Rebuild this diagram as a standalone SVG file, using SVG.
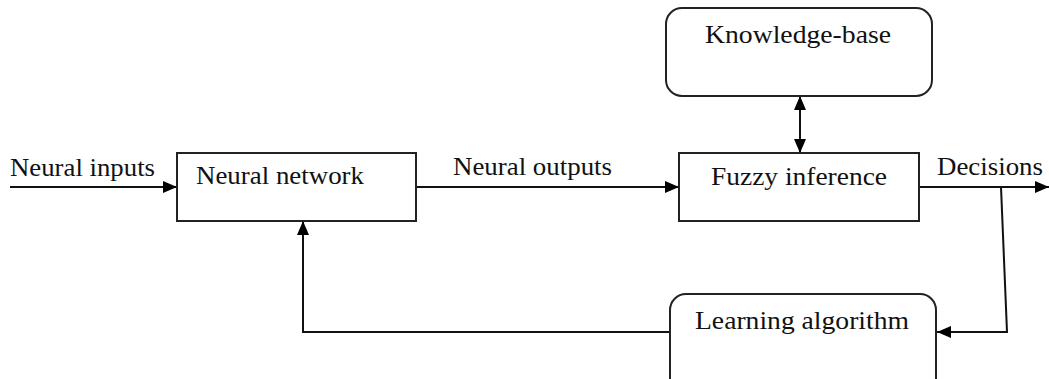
<svg xmlns="http://www.w3.org/2000/svg" width="1049" height="379" viewBox="0 0 1049 379">
<style>
.box{fill:#fff;stroke:#222;stroke-width:2}
.ln{fill:none;stroke:#111;stroke-width:2}
text{font-family:"Liberation Serif","Times New Roman",serif;font-size:26px;fill:#111}
</style>
<defs>
<marker id="ah" viewBox="0 0 14 12" refX="14" refY="6" markerWidth="14" markerHeight="12" markerUnits="userSpaceOnUse" orient="auto-start-reverse">
<path d="M0,0 L14,6 L0,12 z" fill="#000"/>
</marker>
</defs>
<rect width="1049" height="379" fill="#fff"/>
<g id="connectors">
<line class="ln" x1="10" y1="187" x2="177" y2="187" marker-end="url(#ah)"/>
<line class="ln" x1="416" y1="187" x2="679" y2="187" marker-end="url(#ah)"/>
<line class="ln" x1="919" y1="187" x2="1049" y2="187" marker-end="url(#ah)"/>
<line class="ln" x1="800" y1="96" x2="800" y2="153" marker-start="url(#ah)" marker-end="url(#ah)"/>
<polyline class="ln" points="1001,187 1007,332 937,332" marker-end="url(#ah)"/>
<polyline class="ln" points="669,332 303,332 303,221" marker-end="url(#ah)"/>
<text x="10" y="176" textLength="145" lengthAdjust="spacingAndGlyphs">Neural inputs</text>
<text x="453" y="175" textLength="159" lengthAdjust="spacingAndGlyphs">Neural outputs</text>
<text x="937" y="175" textLength="106" lengthAdjust="spacingAndGlyphs">Decisions</text>
</g>
<g id="neural-network">
<rect class="box" x="177" y="153" width="239" height="68"/>
<text x="196" y="184" textLength="168" lengthAdjust="spacingAndGlyphs">Neural network</text>
</g>
<g id="knowledge-base">
<rect class="box" x="666" y="8" width="266" height="88" rx="16" ry="16"/>
<text x="705" y="43" textLength="186" lengthAdjust="spacingAndGlyphs">Knowledge-base</text>
</g>
<g id="fuzzy-inference">
<rect class="box" x="679" y="153" width="240" height="68"/>
<text x="711" y="185" textLength="176" lengthAdjust="spacingAndGlyphs">Fuzzy inference</text>
</g>
<g id="learning-algorithm">
<rect class="box" x="670" y="294" width="266" height="100" rx="16" ry="16"/>
<text x="695" y="329" textLength="214" lengthAdjust="spacingAndGlyphs">Learning algorithm</text>
</g>
</svg>
